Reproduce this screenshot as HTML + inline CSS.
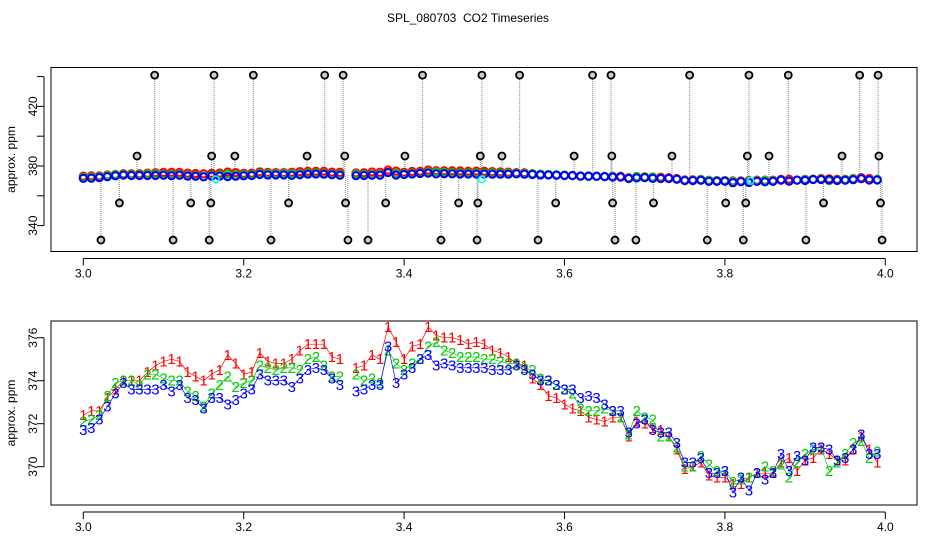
<!DOCTYPE html>
<html><head><meta charset="utf-8"><style>
html,body{margin:0;padding:0;background:#fff;}
svg{display:block;font-family:"Liberation Sans",sans-serif;}
</style></head><body>
<svg id="chart" width="936" height="540" viewBox="0 0 936 540">
<rect width="936" height="540" fill="#fff"/>
<text x="468" y="22" text-anchor="middle" font-size="12" style="white-space:pre">SPL_080703  CO2 Timeseries</text>
<g id="topPanel"></g>
<g id="botPanel"></g>
</svg>
<script>
const xs = [];
for (let i = 0; i < 100; i++) xs.push(3 + i * 0.01);
const s3 = [371.7,371.8,372.2,372.8,373.4,373.9,373.6,373.6,373.6,373.6,
373.8,373.5,373.8,373.2,373.1,372.7,373.2,373.2,372.9,373.1,
373.4,373.6,374.3,374.0,374.0,374.0,373.7,374.1,374.5,374.6,
374.5,374.1,373.8,null,373.5,373.6,373.8,373.8,375.6,373.9,
374.3,374.6,375.0,375.2,374.7,374.8,374.7,374.6,374.6,374.6,
374.6,374.5,374.5,374.5,374.7,374.5,374.3,374.0,374.0,373.8,
373.6,373.6,373.2,373.3,373.2,372.9,372.6,372.6,371.6,372.0,
372.2,371.7,371.6,371.6,371.1,370.2,370.2,370.4,369.7,369.7,
369.8,368.8,369.5,368.9,369.7,369.4,369.7,370.6,369.8,370.5,
370.3,370.9,370.9,370.8,370.3,370.4,370.8,371.5,370.6,370.6];
const s2 = [372.1,372.2,372.4,373.3,373.9,374.0,374.0,373.8,374.3,374.3,
374.1,374.0,374.0,373.5,373.3,372.8,373.4,373.8,374.2,373.7,
373.9,374.0,374.7,374.6,374.5,374.6,374.6,374.5,375.0,375.1,
374.7,374.2,374.2,null,374.3,374.0,374.1,373.9,375.4,374.8,
374.5,374.8,375.0,375.6,375.8,375.4,375.3,375.1,375.1,375.1,
375.0,375.0,374.9,374.8,374.8,374.6,374.5,374.1,374.0,373.8,
373.6,373.4,372.7,372.6,372.6,372.7,372.6,372.3,371.5,372.6,
372.3,372.2,371.4,371.4,370.9,370.0,370.0,370.5,370.1,369.8,
369.8,369.3,369.4,369.5,369.7,370.0,369.8,370.1,369.5,370.2,
370.6,370.8,370.9,369.8,370.2,370.6,371.1,371.2,370.4,370.7];
const s1 = [372.4,372.6,372.6,373.2,373.6,374.0,374.0,374.0,374.4,374.7,
374.9,375.0,374.9,374.4,374.2,374.0,374.3,374.5,375.2,374.8,
374.3,374.4,375.3,374.9,374.8,374.8,375.0,375.4,375.7,375.7,
375.7,375.1,375.0,null,374.6,374.7,375.2,375.0,376.5,375.8,
375.0,375.6,375.7,376.5,376.1,376.0,376.0,375.9,375.7,375.8,
375.7,375.4,375.3,375.1,374.8,374.7,374.1,373.8,373.3,373.2,
372.9,372.7,372.6,372.3,372.2,372.1,372.3,372.3,371.4,372.1,
372.0,371.8,371.7,371.4,370.8,369.9,370.0,370.2,369.6,369.5,
369.5,369.2,369.2,369.5,369.7,369.7,369.7,370.2,370.4,369.8,
370.3,370.4,370.8,370.6,370.3,370.3,370.8,371.4,370.8,370.2];
const outlierX = [3.089,3.163,3.212,3.301,3.324,3.423,3.497,3.544,3.635,3.658,3.756,3.830,3.879,3.968,3.991,
3.067,3.160,3.189,3.279,3.326,3.401,3.495,3.522,3.612,3.659,3.734,3.828,3.855,3.946,3.992,
3.045,3.134,3.159,3.256,3.327,3.377,3.468,3.492,3.589,3.660,3.711,3.801,3.826,3.923,3.994,
3.022,3.112,3.157,3.234,3.330,3.355,3.446,3.491,3.567,3.663,3.689,3.778,3.823,3.901,3.996];
const outlierV = [441,441,441,441,441,441,441,441,441,441,441,441,441,441,441,
386.7,386.7,386.7,386.7,386.7,386.7,386.7,386.7,386.7,386.7,386.7,386.7,386.7,386.7,386.7,
355.2,355.2,355.2,355.2,355.2,355.2,355.2,355.2,355.2,355.2,355.2,355.2,355.2,355.2,355.2,
330.3,330.3,330.3,330.3,330.3,330.3,330.3,330.3,330.3,330.3,330.3,330.3,330.3,330.3,330.3];
const cyanX = [3.165,3.497,3.832];
const cyanV = [371,371,370];
const xTicks = [3.0,3.2,3.4,3.6,3.8,4.0];
const xTickLabels = ["3.0","3.2","3.4","3.6","3.8","4.0"];
const topYTicks = [340,360,380,400,420,440];
const topYLabels = ["340","","380","","420",""];
const botYTicks = [370,372,374,376];
const botYLabels = ["370","372","374","376"];

const NS = "http://www.w3.org/2000/svg";
function mk(tag, attrs, parent) {
  const e = document.createElementNS(NS, tag);
  for (const k in attrs) e.setAttribute(k, attrs[k]);
  parent.appendChild(e);
  return e;
}
const L = 51, R = 917;
const xScale = v => 83.3 + (v - 3) * 802;
const topY = v => 166 - (v - 380) * 1.49;
const botY = v => 337.7 - (v - 376) * 21.5;

function axes(g, T, B, yScale, yt, yl, nameP) {
  const box = mk('rect', {x:L, y:T, width:R-L, height:B-T, fill:'none', stroke:'#000', 'stroke-width':1}, g);
  
  
  const xa = mk('g', {}, g);
  
  
  mk('line', {x1:xScale(xTicks[0]), x2:xScale(xTicks[xTicks.length-1]), y1:B+7, y2:B+7, stroke:'#000'}, xa);
  xTicks.forEach((t, i) => {
    const x = xScale(t);
    mk('line', {x1:x, x2:x, y1:B+7, y2:B+14, stroke:'#000'}, xa);
    const tx = mk('text', {x:x, y:B+26, 'text-anchor':'middle', 'font-size':12}, xa);
    tx.textContent = xTickLabels[i];
    
    
  });
  const ya = mk('g', {}, g);
  
  
  mk('line', {x1:L-7, x2:L-7, y1:yScale(yt[0]), y2:yScale(yt[yt.length-1]), stroke:'#000'}, ya);
  yt.forEach((t, i) => {
    const y = yScale(t);
    mk('line', {x1:L-14, x2:L-7, y1:y, y2:y, stroke:'#000'}, ya);
    if (yl[i]) {
      const tx = mk('text', {x:0, y:0, 'text-anchor':'middle', 'font-size':12, transform:`translate(37,${y}) rotate(-90)`}, ya);
      tx.textContent = yl[i];
      
      
    }
  });
  const yt2 = mk('text', {x:0, y:0, 'text-anchor':'middle', 'font-size':12, transform:`translate(15,${(T+B)/2}) rotate(-90)`}, g);
  yt2.textContent = 'approx. ppm';
  
  
}

// TOP PANEL
const topG = document.getElementById('topPanel');
axes(topG, 67.5, 251.5, topY, topYTicks, topYLabels, 'top');
outlierX.forEach((xv, i) => {
  const idx = Math.min(99, Math.max(0, Math.round((xv - 3) / 0.01)));
  const base = s3[idx] != null ? s3[idx] : 374;
  const ln = mk('line', {x1:xScale(xv), x2:xScale(xv), y1:topY(outlierV[i]), y2:topY(base), stroke:'#999', 'stroke-width':1.2, 'stroke-dasharray':'1,1'}, topG);
  
  
});
[[s1,'#f00','series-1',-1.2],[s2,'#0c0','series-2',-0.5],[s3,'#00f','series-3',0]].forEach(([s,c,n,dy]) => {
  s.forEach((v, i) => {
    if (v == null) return;
    const ci = mk('circle', {cx:xScale(xs[i]), cy:topY(v)+dy, r:3.6, fill:'none', stroke:c, 'stroke-width':2}, topG);
    
    
  });
});
cyanX.forEach((xv, i) => {
  const ci = mk('circle', {cx:xScale(xv), cy:topY(cyanV[i]), r:3.3, fill:'none', stroke:'#0ff', 'stroke-width':1.6}, topG);
  
  
});
outlierX.forEach((xv, i) => {
  const ci = mk('circle', {cx:xScale(xv), cy:topY(outlierV[i]), r:3.5, fill:'#ccc', stroke:'#000', 'stroke-width':1.8}, topG);
  
  
});

// BOTTOM PANEL
const botG = document.getElementById('botPanel');
axes(botG, 321, 505, botY, botYTicks, botYLabels, 'bottom');
[[s1,'#f00','1','series-1'],[s2,'#0c0','2','series-2'],[s3,'#00f','3','series-3']].forEach(([s,c,ch,n]) => {
  const g = mk('g', {}, botG);
  
  
  let d = '', pen = false;
  s.forEach((v, i) => {
    if (v == null) { pen = false; return; }
    d += (pen ? 'L' : 'M') + xScale(xs[i]).toFixed(1) + ',' + botY(v).toFixed(1);
    pen = true;
  });
  mk('path', {d:d, fill:'none', stroke:c, 'stroke-width':0.7}, g);
  s.forEach((v, i) => {
    if (v == null) return;
    const t = mk('text', {x:xScale(xs[i]), y:botY(v) + 5, 'text-anchor':'middle', 'font-size':15, fill:c}, g);
    t.textContent = ch;
    
    
  });
});
</script>
</body></html>
